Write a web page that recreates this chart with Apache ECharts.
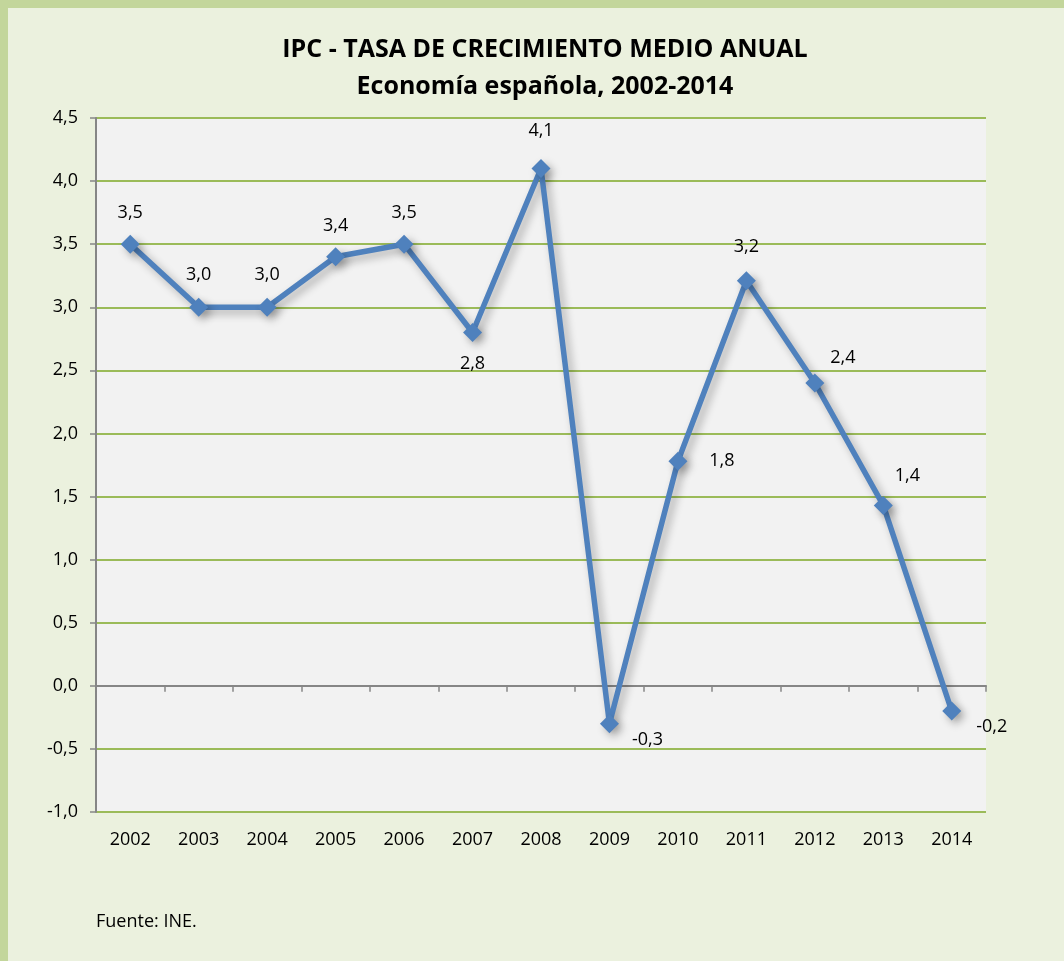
<!DOCTYPE html>
<html>
<head>
<meta charset="utf-8">
<script src="https://cdn.jsdelivr.net/npm/echarts@6/dist/echarts.min.js"></script>
<style>
	html, body {
		margin: 0;
		padding: 0;
		background: #c3d69b;
		width: 1064px;
		height: 961px;
		overflow: hidden;
	}
	#ipcChart {
		position: absolute;
		left: 8px;
		top: 8px;
		width: 1056px;
		height: 953px;
		background: #ebf1de;
	}
</style>
</head>
<body>
<div id="ipcChart"></div>
<script>
	// datos
	const years = ['2002', '2003', '2004', '2005', '2006', '2007', '2008', '2009', '2010', '2011', '2012', '2013', '2014']
	const ipc = [3.5, 3.0, 3.0, 3.4, 3.5, 2.8, 4.1, -0.3, 1.78, 3.21, 2.4, 1.43, -0.2]
	const yMin = -1.0
	const yMax = 4.5
	const yStep = 0.5

	// desplazamiento de cada etiqueta respecto al punto
	const labelOffsets = [
		[0, -31], [0, -32], [0, -32], [0, -31], [0, -31], [0, 31], [0, -38],
		[38, 16], [44, 0], [0, -34], [28, -25], [24, -30], [40, 16]
	]

	const coma = (v) => v.toFixed(1).replace('.', ',')
	const font = 'Open Sans'

	const myChart = echarts.init(document.getElementById('ipcChart'))

	const getData = () => {
		const option = {
			animation: false,
			textStyle: {
				fontFamily: font,
				color: '#000'
			},
			title: {
				text: 'IPC - TASA DE CRECIMIENTO MEDIO ANUAL\nEconomía española, 2002-2014',
				left: 532,
				top: 18,
				textAlign: 'center',
				textStyle: {
					fontFamily: font,
					fontSize: 25,
					fontWeight: 'bold',
					color: '#000',
					lineHeight: 37
				}
			},
			grid: {
				left: 88,
				right: 78,
				top: 110,
				bottom: 149,
				show: true,
				backgroundColor: '#f2f2f2',
				borderWidth: 0
			},
			xAxis: [{
				type: 'category',
				data: years,
				position: 'bottom',
				axisLine: { show: false, onZero: false },
				axisTick: { show: false },
				axisLabel: {
					margin: 19,
					fontSize: 18,
					color: '#000',
					fontFamily: font
				}
			}, {
				// eje en el cero, solo linea y marcas
				type: 'category',
				data: years,
				position: 'bottom',
				axisLine: {
					onZero: true,
					lineStyle: { color: '#868686', width: 2 }
				},
				axisTick: {
					show: true,
					length: 6,
					lineStyle: { color: '#868686', width: 1.5 }
				},
				axisLabel: { show: false },
				splitLine: { show: false }
			}],
			yAxis: [{
				type: 'value',
				min: yMin,
				max: yMax,
				interval: yStep,
				axisLine: {
					show: true,
					lineStyle: { color: '#868686', width: 2 }
				},
				axisTick: {
					show: true,
					length: 6,
					lineStyle: { color: '#868686', width: 1.5 }
				},
				axisLabel: {
					margin: 18,
					fontSize: 18,
					color: '#000',
					fontFamily: font,
					formatter: coma
				},
				splitLine: {
					lineStyle: { color: '#9bbb59', width: 2 }
				}
			}],
			series: [{
				name: 'IPC',
				type: 'line',
				xAxisIndex: 0,
				data: ipc.map((v, i) => ({
					value: v,
					label: { offset: labelOffsets[i] }
				})),
				symbol: 'diamond',
				symbolSize: 19,
				lineStyle: {
					color: '#4f81bd',
					width: 5.5,
					shadowColor: 'rgba(0,0,0,0.3)',
					shadowBlur: 8,
					shadowOffsetX: 4,
					shadowOffsetY: 4
				},
				itemStyle: {
					color: '#4f81bd',
					shadowColor: 'rgba(0,0,0,0.3)',
					shadowBlur: 8,
					shadowOffsetX: 4,
					shadowOffsetY: 4
				},
				label: {
					show: true,
					position: 'inside',
					fontSize: 18,
					fontFamily: font,
					color: '#000',
					formatter: (p) => coma(p.value)
				},
				z: 5
			}],
			graphic: [{
				type: 'text',
				left: 88,
				top: 905,
				style: {
					text: 'Fuente: INE.',
					font: '18px "Open Sans"',
					fill: '#000'
				}
			}]
		}
		return option
	}

	myChart.setOption(getData())
</script>
</body>
</html>
